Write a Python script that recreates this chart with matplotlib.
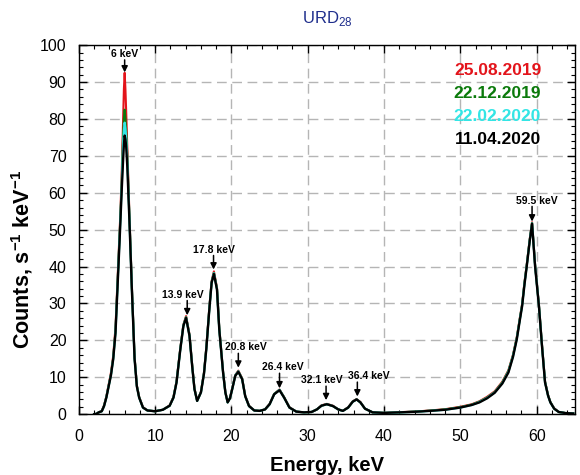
import matplotlib
matplotlib.use("Agg")
import matplotlib.pyplot as plt
from matplotlib.ticker import MultipleLocator

plt.rcParams['font.family'] = ['Liberation Sans', 'DejaVu Sans']
plt.rcParams['mathtext.fontset'] = 'custom'
plt.rcParams['mathtext.rm'] = 'Liberation Sans'
plt.rcParams['mathtext.bf'] = 'Liberation Sans:bold'

energy = [2.0, 2.3, 2.6, 3.0, 3.3, 3.6, 3.9, 4.2, 4.5, 4.8,
          5.1, 5.4, 5.6, 5.8, 5.9, 6.0, 6.1, 6.2, 6.35, 6.65,
          6.95, 7.3, 7.6, 7.9, 8.4, 9.0, 10.0, 11.0, 11.9, 12.4,
          12.8, 13.3, 13.7, 14.05, 14.5, 14.85, 15.15, 15.5, 16.0, 16.4,
          16.7, 17.1, 17.4, 17.7, 18.1, 18.4, 18.9, 19.2, 19.5, 19.8,
          20.1, 20.5, 20.9, 21.4, 21.8, 22.3, 23.0, 23.7, 24.4, 25.0,
          25.6, 26.3, 26.9, 27.6, 28.5, 29.5, 30.5, 31.2, 31.8, 32.5,
          33.3, 34.0, 34.6, 35.3, 35.9, 36.4, 36.9, 37.5, 38.5, 40.0,
          42.0, 44.0, 46.0, 48.0, 50.0, 51.5, 52.5, 53.5, 54.5, 55.5,
          56.3, 56.9, 57.4, 57.8, 58.1, 58.4, 58.7, 59.1, 59.4, 59.8,
          60.3, 60.7, 61.1, 61.5, 61.8, 62.3, 62.9, 63.8, 64.8]

counts_11_04_2020 = [0.0, 0.1, 0.5, 0.8, 2.2, 4.5, 7.5, 10.5, 14.9, 22.0,
                     36.0, 50.0, 60.0, 69.0, 73.0, 75.5, 74.5, 72.5, 67.0, 51.0,
                     33.5, 15.0, 7.5, 4.5, 1.8, 1.0, 0.8, 1.2, 2.3, 4.5,
                     8.6, 17.6, 23.9, 26.1, 21.2, 13.0, 6.8, 3.6, 5.9, 11.0,
                     17.6, 28.4, 35.6, 38.0, 33.8, 23.0, 11.3, 5.9, 3.2, 4.3,
                     6.8, 10.4, 11.5, 9.5, 4.9, 2.2, 1.0, 0.9, 1.3, 2.7,
                     5.4, 6.5, 4.5, 1.8, 0.7, 0.5, 0.6, 1.3, 2.3, 2.7,
                     2.2, 1.3, 0.9, 1.8, 3.4, 4.0, 3.2, 1.5, 0.5, 0.35,
                     0.5, 0.65, 0.9, 1.2, 1.8, 2.5, 3.2, 4.3, 5.8, 8.3,
                     11.3, 15.5, 20.3, 25.5, 29.3, 35.0, 40.0, 47.0, 51.6, 40.0,
                     29.3, 18.5, 8.6, 5.0, 3.2, 1.5, 0.6, 0.3, 0.2]

counts_22_02_2020 = [0.0, 0.1, 0.5, 0.8, 2.2, 4.6, 7.6, 10.6, 15.0, 22.3,
                     36.5, 51.0, 61.0, 73.0, 77.0, 79.0, 77.5, 75.0, 68.5, 51.5,
                     33.8, 15.2, 7.6, 4.5, 1.8, 1.0, 0.8, 1.2, 2.3, 4.5,
                     8.7, 17.7, 24.0, 26.2, 21.3, 13.1, 6.8, 3.6, 5.9, 11.1,
                     17.7, 28.5, 35.7, 38.2, 33.9, 23.1, 11.3, 5.9, 3.2, 4.3,
                     6.8, 10.5, 11.6, 9.5, 4.9, 2.2, 1.0, 0.9, 1.3, 2.7,
                     5.4, 6.6, 4.5, 1.8, 0.7, 0.5, 0.6, 1.3, 2.3, 2.7,
                     2.2, 1.3, 0.9, 1.8, 3.4, 4.0, 3.2, 1.5, 0.5, 0.35,
                     0.5, 0.65, 0.9, 1.2, 1.8, 2.5, 3.3, 4.4, 5.9, 8.4,
                     11.5, 15.7, 20.5, 25.7, 29.5, 35.2, 40.2, 47.2, 51.7, 40.2,
                     29.4, 18.6, 8.7, 5.0, 3.2, 1.5, 0.6, 0.3, 0.2]

counts_22_12_2019 = [0.0, 0.1, 0.5, 0.8, 2.3, 4.6, 7.7, 10.7, 15.2, 22.6,
                     37.0, 51.5, 62.0, 76.0, 80.0, 82.5, 80.0, 77.0, 70.0, 52.0,
                     34.0, 15.3, 7.7, 4.6, 1.8, 1.0, 0.8, 1.2, 2.3, 4.6,
                     8.8, 17.8, 24.1, 26.3, 21.4, 13.2, 6.9, 3.6, 6.0, 11.2,
                     17.8, 28.6, 35.8, 38.3, 34.0, 23.2, 11.4, 5.9, 3.2, 4.3,
                     6.9, 10.5, 11.6, 9.6, 4.9, 2.2, 1.0, 0.9, 1.3, 2.7,
                     5.5, 6.6, 4.6, 1.8, 0.7, 0.5, 0.6, 1.3, 2.3, 2.7,
                     2.2, 1.3, 0.9, 1.8, 3.4, 4.0, 3.2, 1.5, 0.5, 0.35,
                     0.5, 0.7, 0.95, 1.3, 1.9, 2.6, 3.4, 4.5, 6.0, 8.6,
                     11.7, 15.9, 20.7, 25.9, 29.7, 35.4, 40.3, 47.3, 51.8, 40.3,
                     29.5, 18.7, 8.8, 5.1, 3.3, 1.5, 0.6, 0.3, 0.2]

counts_25_08_2019 = [0.0, 0.1, 0.5, 0.9, 2.4, 4.8, 8.0, 11.2, 15.8, 23.5,
                     38.0, 52.5, 64.0, 80.0, 88.0, 92.5, 88.0, 82.0, 72.0, 52.5,
                     34.5, 15.6, 7.8, 4.7, 1.9, 1.0, 0.8, 1.2, 2.4, 4.7,
                     8.9, 18.0, 24.3, 26.6, 21.6, 13.4, 7.0, 3.7, 6.1, 11.3,
                     18.0, 28.9, 36.1, 38.7, 34.3, 23.4, 11.5, 6.0, 3.3, 4.4,
                     7.0, 10.6, 11.8, 9.7, 5.0, 2.3, 1.0, 0.9, 1.3, 2.8,
                     5.5, 6.7, 4.6, 1.9, 0.7, 0.5, 0.6, 1.3, 2.4, 2.8,
                     2.3, 1.3, 0.9, 1.9, 3.5, 4.1, 3.3, 1.5, 0.5, 0.35,
                     0.55, 0.7, 1.0, 1.35, 2.0, 2.7, 3.5, 4.7, 6.2, 8.8,
                     11.9, 16.1, 20.9, 26.1, 29.9, 35.6, 40.5, 47.5, 52.0, 40.5,
                     29.7, 18.9, 8.9, 5.2, 3.3, 1.6, 0.6, 0.3, 0.2]

series_labels = ["25.08.2019", "22.12.2019", "22.02.2020", "11.04.2020"]
series_colors = ["#e3141b", "#0b7a0b", "#33e5e5", "#000000"]

peak_labels = ["6 keV", "13.9 keV", "17.8 keV", "20.8 keV", "26.4 keV",
               "32.1 keV", "36.4 keV", "59.5 keV"]
peak_arrow_x = [6.0, 14.2, 17.65, 20.9, 26.3, 32.4, 36.5, 59.4]
peak_arrow_tip = [92.6, 26.8, 39.2, 12.6, 7.0, 3.8, 4.8, 52.2]
peak_text_x = [6.0, 13.6, 17.65, 21.9, 26.7, 31.9, 38.0, 60.0]
peak_text_y = [97.6, 32.4, 44.6, 18.1, 12.7, 9.2, 10.3, 57.9]

fig = plt.figure(figsize=(5.8, 4.75), dpi=100)
ax = fig.add_axes([0.136, 0.128, 0.855, 0.777])

all_counts = [counts_25_08_2019, counts_22_12_2019, counts_22_02_2020, counts_11_04_2020]
widths = [1.5, 1.5, 1.6, 1.7]
for c, col, lw in zip(all_counts, series_colors, widths):
    ax.plot(energy, c, color=col, lw=lw, zorder=3)

ax.set_xlim(0, 65)
ax.set_ylim(0, 100)
ax.xaxis.set_major_locator(MultipleLocator(10))
ax.xaxis.set_minor_locator(MultipleLocator(2))
ax.yaxis.set_major_locator(MultipleLocator(10))
ax.yaxis.set_minor_locator(MultipleLocator(2))
ax.tick_params(which='both', direction='in', top=True, right=True, labelsize=11.5)
ax.tick_params(which='major', length=6, width=1)
ax.tick_params(which='minor', length=3, width=0.8)
ax.tick_params(axis='x', which='major', pad=11)
ax.tick_params(axis='y', which='major', pad=9)
ax.grid(True, which='major', color='#b5b5b5', linestyle=(0, (7, 4)), lw=1, zorder=0)
for s in ax.spines.values():
    s.set_linewidth(1)

ax.set_xlabel("Energy, keV", fontsize=14.5, fontweight='bold', labelpad=8)
ax.set_ylabel("Counts, s$^{\\mathbf{-1}}$ keV$^{\\mathbf{-1}}$", fontsize=15.5,
              fontweight='bold')
ax.yaxis.set_label_coords(-0.088, 0.42)
ax.set_title("URD$_{28}$", color='#1f2e8c', fontsize=12, pad=16)

for lab, ax_x, tip, tx, ty in zip(peak_labels, peak_arrow_x, peak_arrow_tip,
                                  peak_text_x, peak_text_y):
    ax.text(tx, ty, lab, ha='center', va='center', fontsize=7.5, fontweight='bold',
            zorder=5)
    ax.annotate('', xy=(ax_x, tip), xytext=(ax_x, ty - 1.6),
                arrowprops=dict(arrowstyle='-|>', color='black', lw=1.1,
                                mutation_scale=9, shrinkA=0, shrinkB=0), zorder=5)

legend_y = [93.0, 86.8, 80.6, 74.4]
for lab, col, yy in zip(series_labels, series_colors, legend_y):
    ax.text(60.6, yy, lab, color=col, ha='right', va='center', fontsize=12.5,
            fontweight='bold', zorder=5)

fig.savefig("out.png", dpi=100)
